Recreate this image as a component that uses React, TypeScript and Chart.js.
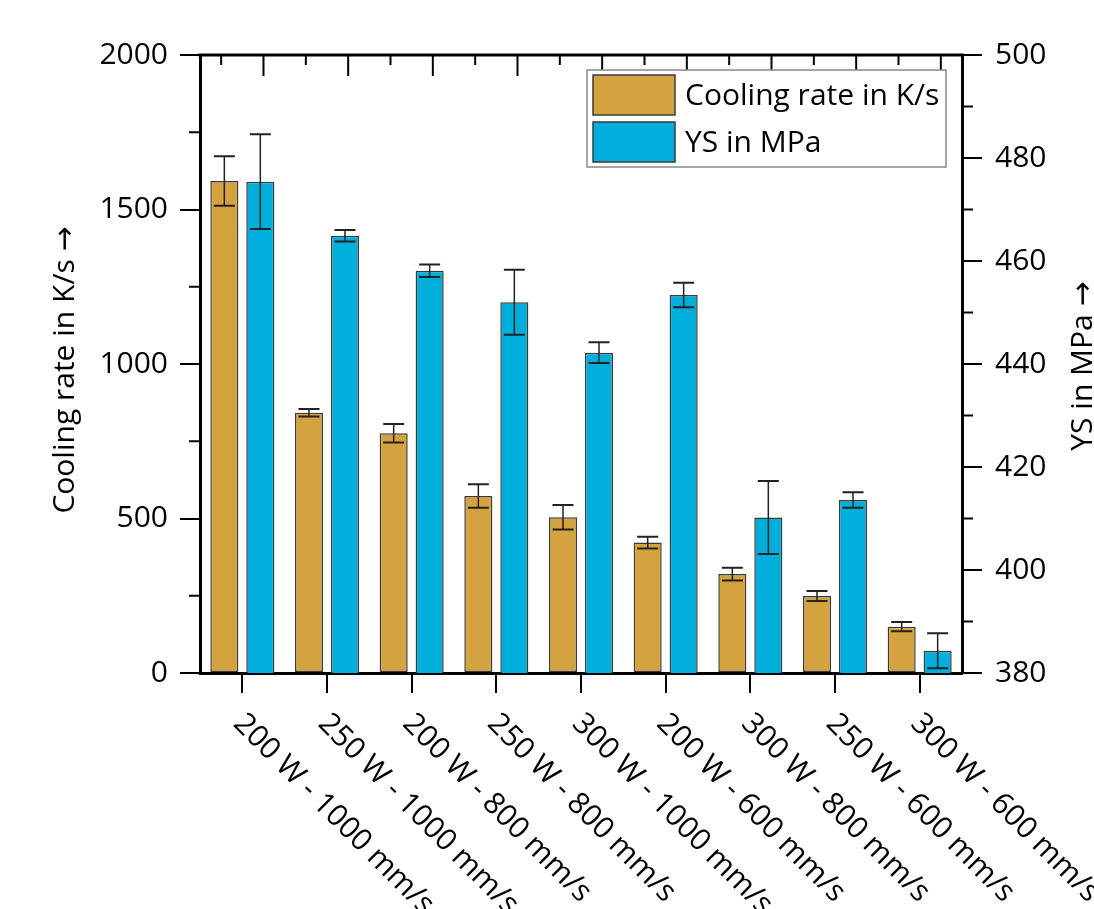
import React, { useEffect, useRef } from "react";
import { Chart, registerables } from "chart.js";

Chart.register(...registerables);

// ---------- data ----------
const categories = [
  "200 W - 1000 mm/s",
  "250 W - 1000 mm/s",
  "200 W - 800 mm/s",
  "250 W - 800 mm/s",
  "300 W - 1000 mm/s",
  "200 W - 600 mm/s",
  "300 W - 800 mm/s",
  "250 W - 600 mm/s",
  "300 W - 600 mm/s",
];
const coolingRate = [1592, 842, 776, 573, 504, 422, 320, 249, 150];
const coolingErr = [80, 12, 30, 38, 40, 19, 21, 16, 15];
const ysValues = [475.4, 464.9, 458.1, 452.0, 442.2, 453.4, 410.2, 413.6, 384.3];
const ysErr = [9.2, 1.1, 1.2, 6.3, 2.0, 2.4, 7.1, 1.5, 3.4];
const seriesNames = ["Cooling rate in K/s", "YS in MPa"];
const leftTitle = "Cooling rate in K/s \u2192";
const rightTitle = "YS in MPa \u2192";
const leftMinorTicks = [250, 750, 1250, 1750];
const rightMinorTicks = [390, 410, 430, 450, 470, 490];

// ---------- styles ----------
const W = 1094;
const H = 909;
const ORANGE = "#D4A23F";
const BLUE = "#00AEDB";
const EDGE = "#3a3a3a";
const FONT_FAMILY = "'Open Sans', 'DejaVu Sans', sans-serif";
const FONT_SIZE = 30;

const decorPlugin = {
  id: "decor",
  afterDatasetsDraw(chart: any) {
    const ctx = chart.ctx;
    const errs = [coolingErr, ysErr];
    ctx.save();
    chart.data.datasets.forEach((ds: any, di: number) => {
      const meta = chart.getDatasetMeta(di);
      const scale = chart.scales[ds.yAxisID];
      meta.data.forEach((bar: any, i: number) => {
        const v = ds.data[i];
        const e = errs[di][i];
        const yTop = scale.getPixelForValue(v + e);
        const yBot = scale.getPixelForValue(v - e);
        const x = bar.x;
        ctx.strokeStyle = "#222";
        ctx.lineWidth = 1.5;
        ctx.beginPath();
        ctx.moveTo(x, yTop);
        ctx.lineTo(x, yBot);
        ctx.stroke();
        ctx.lineWidth = 2;
        ctx.beginPath();
        ctx.moveTo(x - 10.5, yTop);
        ctx.lineTo(x + 10.5, yTop);
        ctx.moveTo(x - 10.5, yBot);
        ctx.lineTo(x + 10.5, yBot);
        ctx.stroke();
      });
    });
    ctx.restore();
  },
  afterDraw(chart: any) {
    const ctx = chart.ctx;
    const { left, right, top, bottom } = chart.chartArea;
    ctx.save();
    ctx.strokeStyle = "#000";
    // top axis line
    ctx.lineWidth = 3;
    ctx.beginPath();
    ctx.moveTo(left - 1.5, top);
    ctx.lineTo(right + 1.5, top);
    ctx.stroke();
    // top ticks (inward)
    ctx.lineWidth = 2;
    const w = right - left;
    for (let k = 0; k < 18; k++) {
      const x = left + (w * (2 * k + 1)) / 36;
      const len = k % 2 === 1 ? 21 : 10;
      ctx.beginPath();
      ctx.moveTo(x, top);
      ctx.lineTo(x, top + len);
      ctx.stroke();
    }
    // minor ticks
    const yL = chart.scales.yL;
    const yR = chart.scales.yR;
    leftMinorTicks.forEach((v) => {
      const y = yL.getPixelForValue(v);
      ctx.beginPath();
      ctx.moveTo(left, y);
      ctx.lineTo(left - 11, y);
      ctx.stroke();
    });
    rightMinorTicks.forEach((v) => {
      const y = yR.getPixelForValue(v);
      ctx.beginPath();
      ctx.moveTo(right, y);
      ctx.lineTo(right + 11, y);
      ctx.stroke();
    });

    // x labels rotated 45deg
    ctx.fillStyle = "#000";
    ctx.font = `${FONT_SIZE}px ${FONT_FAMILY}`;
    const xs = chart.scales.x;
    categories.forEach((lab, i) => {
      const x = xs.getPixelForValue(i);
      ctx.save();
      ctx.translate(x - 4, bottom + 46);
      ctx.rotate(Math.PI / 4);
      ctx.textAlign = "left";
      ctx.textBaseline = "middle";
      ctx.fillText(lab, 0, 0);
      ctx.restore();
    });

    // axis titles
    ctx.save();
    ctx.translate(65, (top + bottom) / 2 + 6);
    ctx.rotate(-Math.PI / 2);
    ctx.textAlign = "center";
    ctx.textBaseline = "middle";
    ctx.fillText(leftTitle, 0, 0);
    ctx.restore();
    ctx.save();
    ctx.translate(1083, (top + bottom) / 2 + 2);
    ctx.rotate(-Math.PI / 2);
    ctx.textAlign = "center";
    ctx.textBaseline = "middle";
    ctx.fillText(rightTitle, 0, 0);
    ctx.restore();

    // legend
    const lx = 587, ly = 70, lw = 359, lh = 97;
    ctx.fillStyle = "#fff";
    ctx.fillRect(lx, ly, lw, lh);
    ctx.strokeStyle = "#888";
    ctx.lineWidth = 1.5;
    ctx.strokeRect(lx, ly, lw, lh);
    const colors = [ORANGE, BLUE];
    seriesNames.forEach((name, i) => {
      const sy = 75 + i * 47;
      ctx.fillStyle = colors[i];
      ctx.fillRect(593, sy, 82, 40);
      ctx.strokeStyle = EDGE;
      ctx.lineWidth = 1.5;
      ctx.strokeRect(593, sy, 82, 40);
      ctx.fillStyle = "#000";
      ctx.textAlign = "left";
      ctx.textBaseline = "middle";
      ctx.fillText(name, 685, sy + 21);
    });
    ctx.restore();
  },
};

export default function App() {
  const ref = useRef<HTMLCanvasElement | null>(null);
  useEffect(() => {
    document.body.style.margin = "0";
    const canvas = ref.current;
    if (!canvas) return;
    const tickFont = { family: FONT_FAMILY, size: FONT_SIZE };
    const chart = new Chart(canvas, {
      type: "bar",
      data: {
        labels: categories,
        datasets: [
          {
            label: seriesNames[0],
            data: coolingRate,
            yAxisID: "yL",
            backgroundColor: ORANGE,
            borderColor: EDGE,
            borderWidth: 1.5,
            borderSkipped: false,
            categoryPercentage: 0.85,
            barPercentage: 0.78,
          },
          {
            label: seriesNames[1],
            data: ysValues,
            yAxisID: "yR",
            backgroundColor: BLUE,
            borderColor: EDGE,
            borderWidth: 1.5,
            borderSkipped: false,
            categoryPercentage: 0.85,
            barPercentage: 0.78,
          },
        ],
      },
      options: {
        responsive: false,
        animation: false,
        layout: { padding: { top: 55, left: 0, right: 0, bottom: 0 } },
        plugins: { legend: { display: false }, tooltip: { enabled: false } },
        scales: {
          x: {
            grid: {
              display: true,
              drawOnChartArea: false,
              drawTicks: true,
              tickLength: 20,
              offset: false,
              color: "#000",
              lineWidth: 2,
            },
            border: { display: true, color: "#000", width: 3 },
            ticks: { display: false },
            afterFit: (s: any) => {
              s.height = H - 673;
            },
          },
          yL: {
            position: "left",
            min: 0,
            max: 2000,
            ticks: {
              stepSize: 500,
              font: tickFont,
              color: "#000",
              padding: 12,
              callback: (v: any) => String(v),
            },
            grid: { drawOnChartArea: false, tickLength: 20, color: "#000", lineWidth: 2 },
            border: { display: true, color: "#000", width: 3 },
            afterFit: (s: any) => {
              s.width = 200;
            },
          },
          yR: {
            position: "right",
            min: 380,
            max: 500,
            ticks: {
              stepSize: 20,
              font: tickFont,
              color: "#000",
              padding: 13,
              callback: (v: any) => String(v),
            },
            grid: { drawOnChartArea: false, tickLength: 20, color: "#000", lineWidth: 2 },
            border: { display: true, color: "#000", width: 3 },
            afterFit: (s: any) => {
              s.width = W - 962;
            },
          },
        },
      },
      plugins: [decorPlugin],
    } as any);
    return () => chart.destroy();
  }, []);
  return (
    <div style={{ width: W, height: H, background: "#fff" }}>
      <canvas ref={ref} width={W} height={H} style={{ display: "block" }} />
    </div>
  );
}
